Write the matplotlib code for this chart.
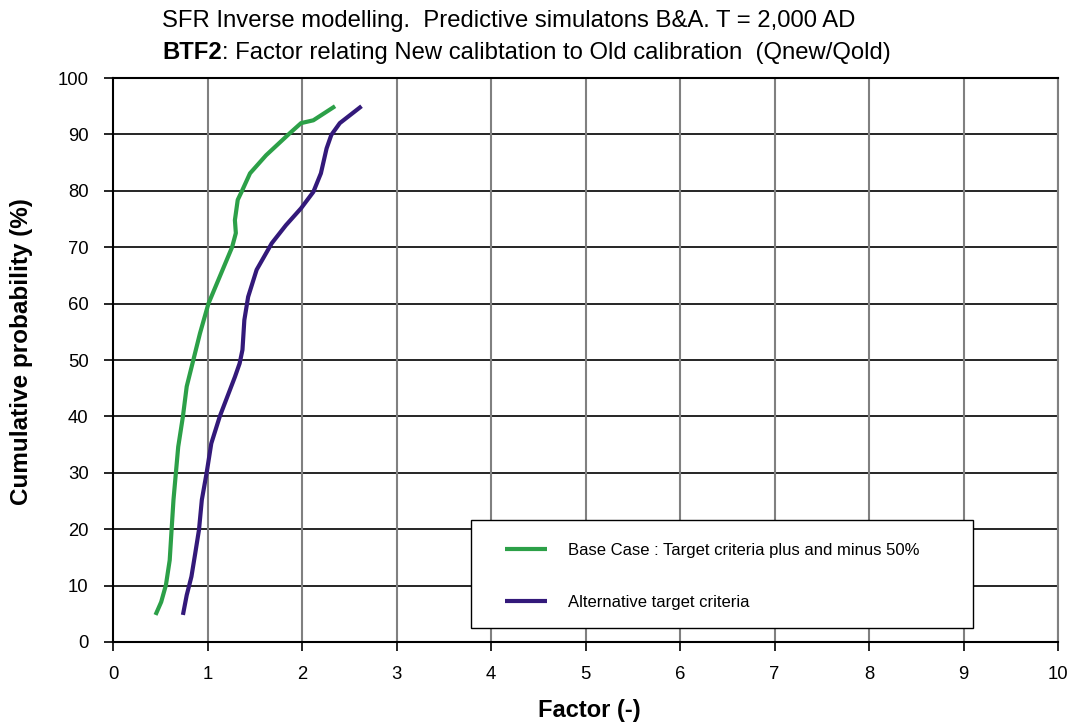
import matplotlib
matplotlib.use("Agg")
import matplotlib.pyplot as plt
from matplotlib.patches import Rectangle

plt.rcParams['font.family'] = ['Liberation Sans', 'DejaVu Sans']

# Cumulative probability (%) against factor Qnew/Qold
base_prob = [4.8, 7.1, 10.1, 14.5, 19.9, 25.2, 29.9, 34.6, 40.0, 45.3, 50.0, 54.7,
             60.0, 64.8, 70.0, 72.5, 74.8, 78.4, 79.8, 83.1, 86.3, 90.2, 92.0, 92.5, 95.0]
base_factor = [0.45, 0.51, 0.56, 0.60, 0.62, 0.64, 0.665, 0.69, 0.74, 0.78, 0.85, 0.92,
               1.01, 1.13, 1.26, 1.30, 1.29, 1.32, 1.36, 1.45, 1.62, 1.87, 1.99, 2.12, 2.35]

alt_prob = [4.8, 8.3, 11.6, 15.7, 19.9, 25.2, 29.9, 35.2, 40.0, 47.0, 49.4, 51.8, 57.1,
            61.2, 66.0, 70.7, 73.9, 76.9, 79.8, 83.1, 87.5, 89.9, 92.0, 95.0]
alt_factor = [0.74, 0.78, 0.83, 0.87, 0.91, 0.94, 0.99, 1.04, 1.13, 1.29, 1.34, 1.37, 1.39,
              1.43, 1.52, 1.68, 1.83, 1.99, 2.12, 2.20, 2.26, 2.31, 2.40, 2.63]

series_labels = ["Base Case : Target criteria plus and minus 50%",
                 "Alternative target criteria"]
series_colors = ["#2ca048", "#33197a"]

x_ticks = list(range(0, 11))
y_ticks = list(range(0, 101, 10))

W, H = 1075, 726
fig = plt.figure(figsize=(W / 100, H / 100), dpi=100)
ax = fig.add_axes([113 / W, 1 - 642 / H, (1058 - 113) / W, (642 - 78) / H])

ax.plot(base_factor, base_prob, color=series_colors[0], lw=3, label=series_labels[0],
        solid_capstyle='butt', zorder=3)
ax.plot(alt_factor, alt_prob, color=series_colors[1], lw=3, label=series_labels[1],
        solid_capstyle='butt', zorder=3)

ax.set_xlim(0, 10)
ax.set_ylim(0, 100)
ax.set_xticks(x_ticks)
ax.set_yticks(y_ticks)
ax.tick_params(axis='both', direction='out', length=6.5, width=1.2, labelsize=13.3,
               colors='black')
ax.tick_params(axis='y', pad=11)
ax.tick_params(axis='x', pad=10.5)

for y in y_ticks[1:]:
    ax.axhline(y, color='black', lw=1.2, zorder=1)
for x in x_ticks[1:]:
    ax.axvline(x, color='#808080', lw=1.5, zorder=1)

for side in ['left', 'bottom', 'top']:
    ax.spines[side].set_color('black')
    ax.spines[side].set_linewidth(1.5)
ax.spines['right'].set_color('#808080')
ax.spines['right'].set_linewidth(1.5)

# legend: framed box with the entries placed inside it
ax.add_patch(Rectangle((0.3785, 0.0254), 0.5319, 0.1909, transform=ax.transAxes,
                       facecolor='white', edgecolor='black', lw=1.0, zorder=4))
ax.legend(loc='upper left', bbox_to_anchor=(0.4148, 0.175), borderaxespad=0,
          borderpad=0, frameon=False, fontsize=12, handlelength=2.5,
          handletextpad=1.3, labelspacing=2.2).set_zorder(5)

# axis titles
fig.text(589 / W, 1 - 717 / H, "Factor (-)", fontsize=17, fontweight='bold',
         ha='center', va='baseline')
fig.text(22 / W, 1 - 352 / H, "Cumulative probability (%)", fontsize=17.5,
         fontweight='bold', rotation=90, ha='center', va='center')

# two-line chart title
fig.text(162 / W, 1 - 27.5 / H,
         "SFR Inverse modelling.  Predictive simulatons B&A. T = 2,000 AD",
         fontsize=17.2, ha='left', va='baseline')
bold_part = fig.text(162 / W, 1 - 59 / H, "BTF2", fontsize=17.2, fontweight='bold',
                     ha='left', va='baseline')
fig.canvas.draw()
bb = bold_part.get_window_extent(renderer=fig.canvas.get_renderer())
fig.text(bb.x1 / W, 1 - 59 / H,
         ": Factor relating New calibtation to Old calibration  (Qnew/Qold)",
         fontsize=17.2, ha='left', va='baseline')

fig.savefig("out.png", dpi=100)
